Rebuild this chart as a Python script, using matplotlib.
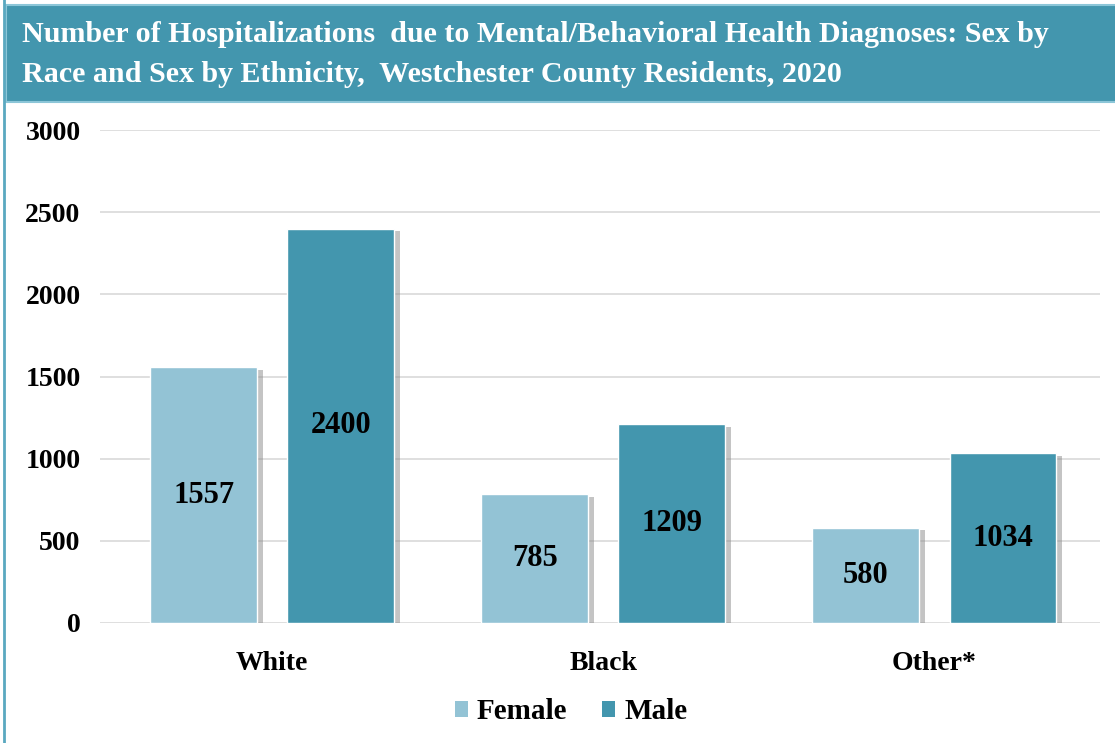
import numpy as np
import matplotlib.pyplot as plt
from matplotlib.patches import Rectangle, Patch
import matplotlib.patheffects as pe

# data
races = ['White', 'Black', 'Other*']
female = [1557, 785, 580]
male = [2400, 1209, 1034]
yticks = [0, 500, 1000, 1500, 2000, 2500, 3000]

teal = '#4396ae'
light = '#93c3d5'

plt.rcParams['font.family'] = ['Liberation Serif', 'DejaVu Serif']
plt.rcParams['font.weight'] = 'bold'

fig = plt.figure(figsize=(11.15, 7.43), dpi=100)

# title band
fig.patches.append(Rectangle((6 / 1115, 1 - 102 / 743), 1.0, 97 / 743, transform=fig.transFigure,
                             facecolor=teal, edgecolor='#8cc6d8', lw=1.5, zorder=0))
# left border line
fig.add_artist(plt.Line2D([0.004, 0.004], [0, 1], transform=fig.transFigure, color='#5aa8c0', lw=2))
fig.text(22 / 1115, 1 - 42 / 743, 'Number of Hospitalizations  due to Mental/Behavioral Health Diagnoses: Sex by',
         color='white', fontsize=21.6, fontweight='bold', va='baseline', ha='left')
fig.text(22 / 1115, 1 - 82 / 743, 'Race and Sex by Ethnicity,  Westchester County Residents, 2020',
         color='white', fontsize=21.6, fontweight='bold', va='baseline', ha='left')

ax = fig.add_axes([100 / 1115, 1 - 623 / 743, 1000 / 1115, 493 / 743])
x = np.arange(len(races))
w = 0.323
off = 0.207
shadow = [pe.SimplePatchShadow(offset=(4, -2), shadow_rgbFace='#8a8a8a', alpha=0.5), pe.Normal()]
b1 = ax.bar(x - off, female, w, color=light, edgecolor='white', lw=1,
            zorder=3, path_effects=shadow)
b2 = ax.bar(x + off, male, w, color=teal, edgecolor='white', lw=1,
            zorder=3, path_effects=shadow)

for bars, vals in [(b1, female), (b2, male)]:
    for b, v in zip(bars, vals):
        ax.text(b.get_x() + b.get_width() / 2, v / 2, str(v), ha='center', va='center',
                fontsize=22, fontweight='bold', color='black', zorder=4)

ax.set_xlim(-0.52, 2.5)
ax.set_ylim(0, 3000)
ax.set_yticks(yticks)
ax.set_xticks(x)
ax.set_xticklabels(races)
ax.tick_params(axis='y', length=0, labelsize=20, pad=14)
ax.tick_params(axis='x', length=0, labelsize=20, pad=20)
ax.grid(axis='y', color='#d9d9d9', lw=1.2, zorder=0)
for s in ax.spines.values():
    s.set_visible(False)

handles = [Patch(facecolor=light, label='Female'), Patch(facecolor=teal, label='Male')]
ax.legend(handles=handles, loc='center', bbox_to_anchor=(0.471, -0.18), ncol=2, frameon=False,
          fontsize=21, handlelength=0.45, handleheight=0.45, handletextpad=0.3,
          columnspacing=1.2)

plt.savefig('out.png', dpi=100)
